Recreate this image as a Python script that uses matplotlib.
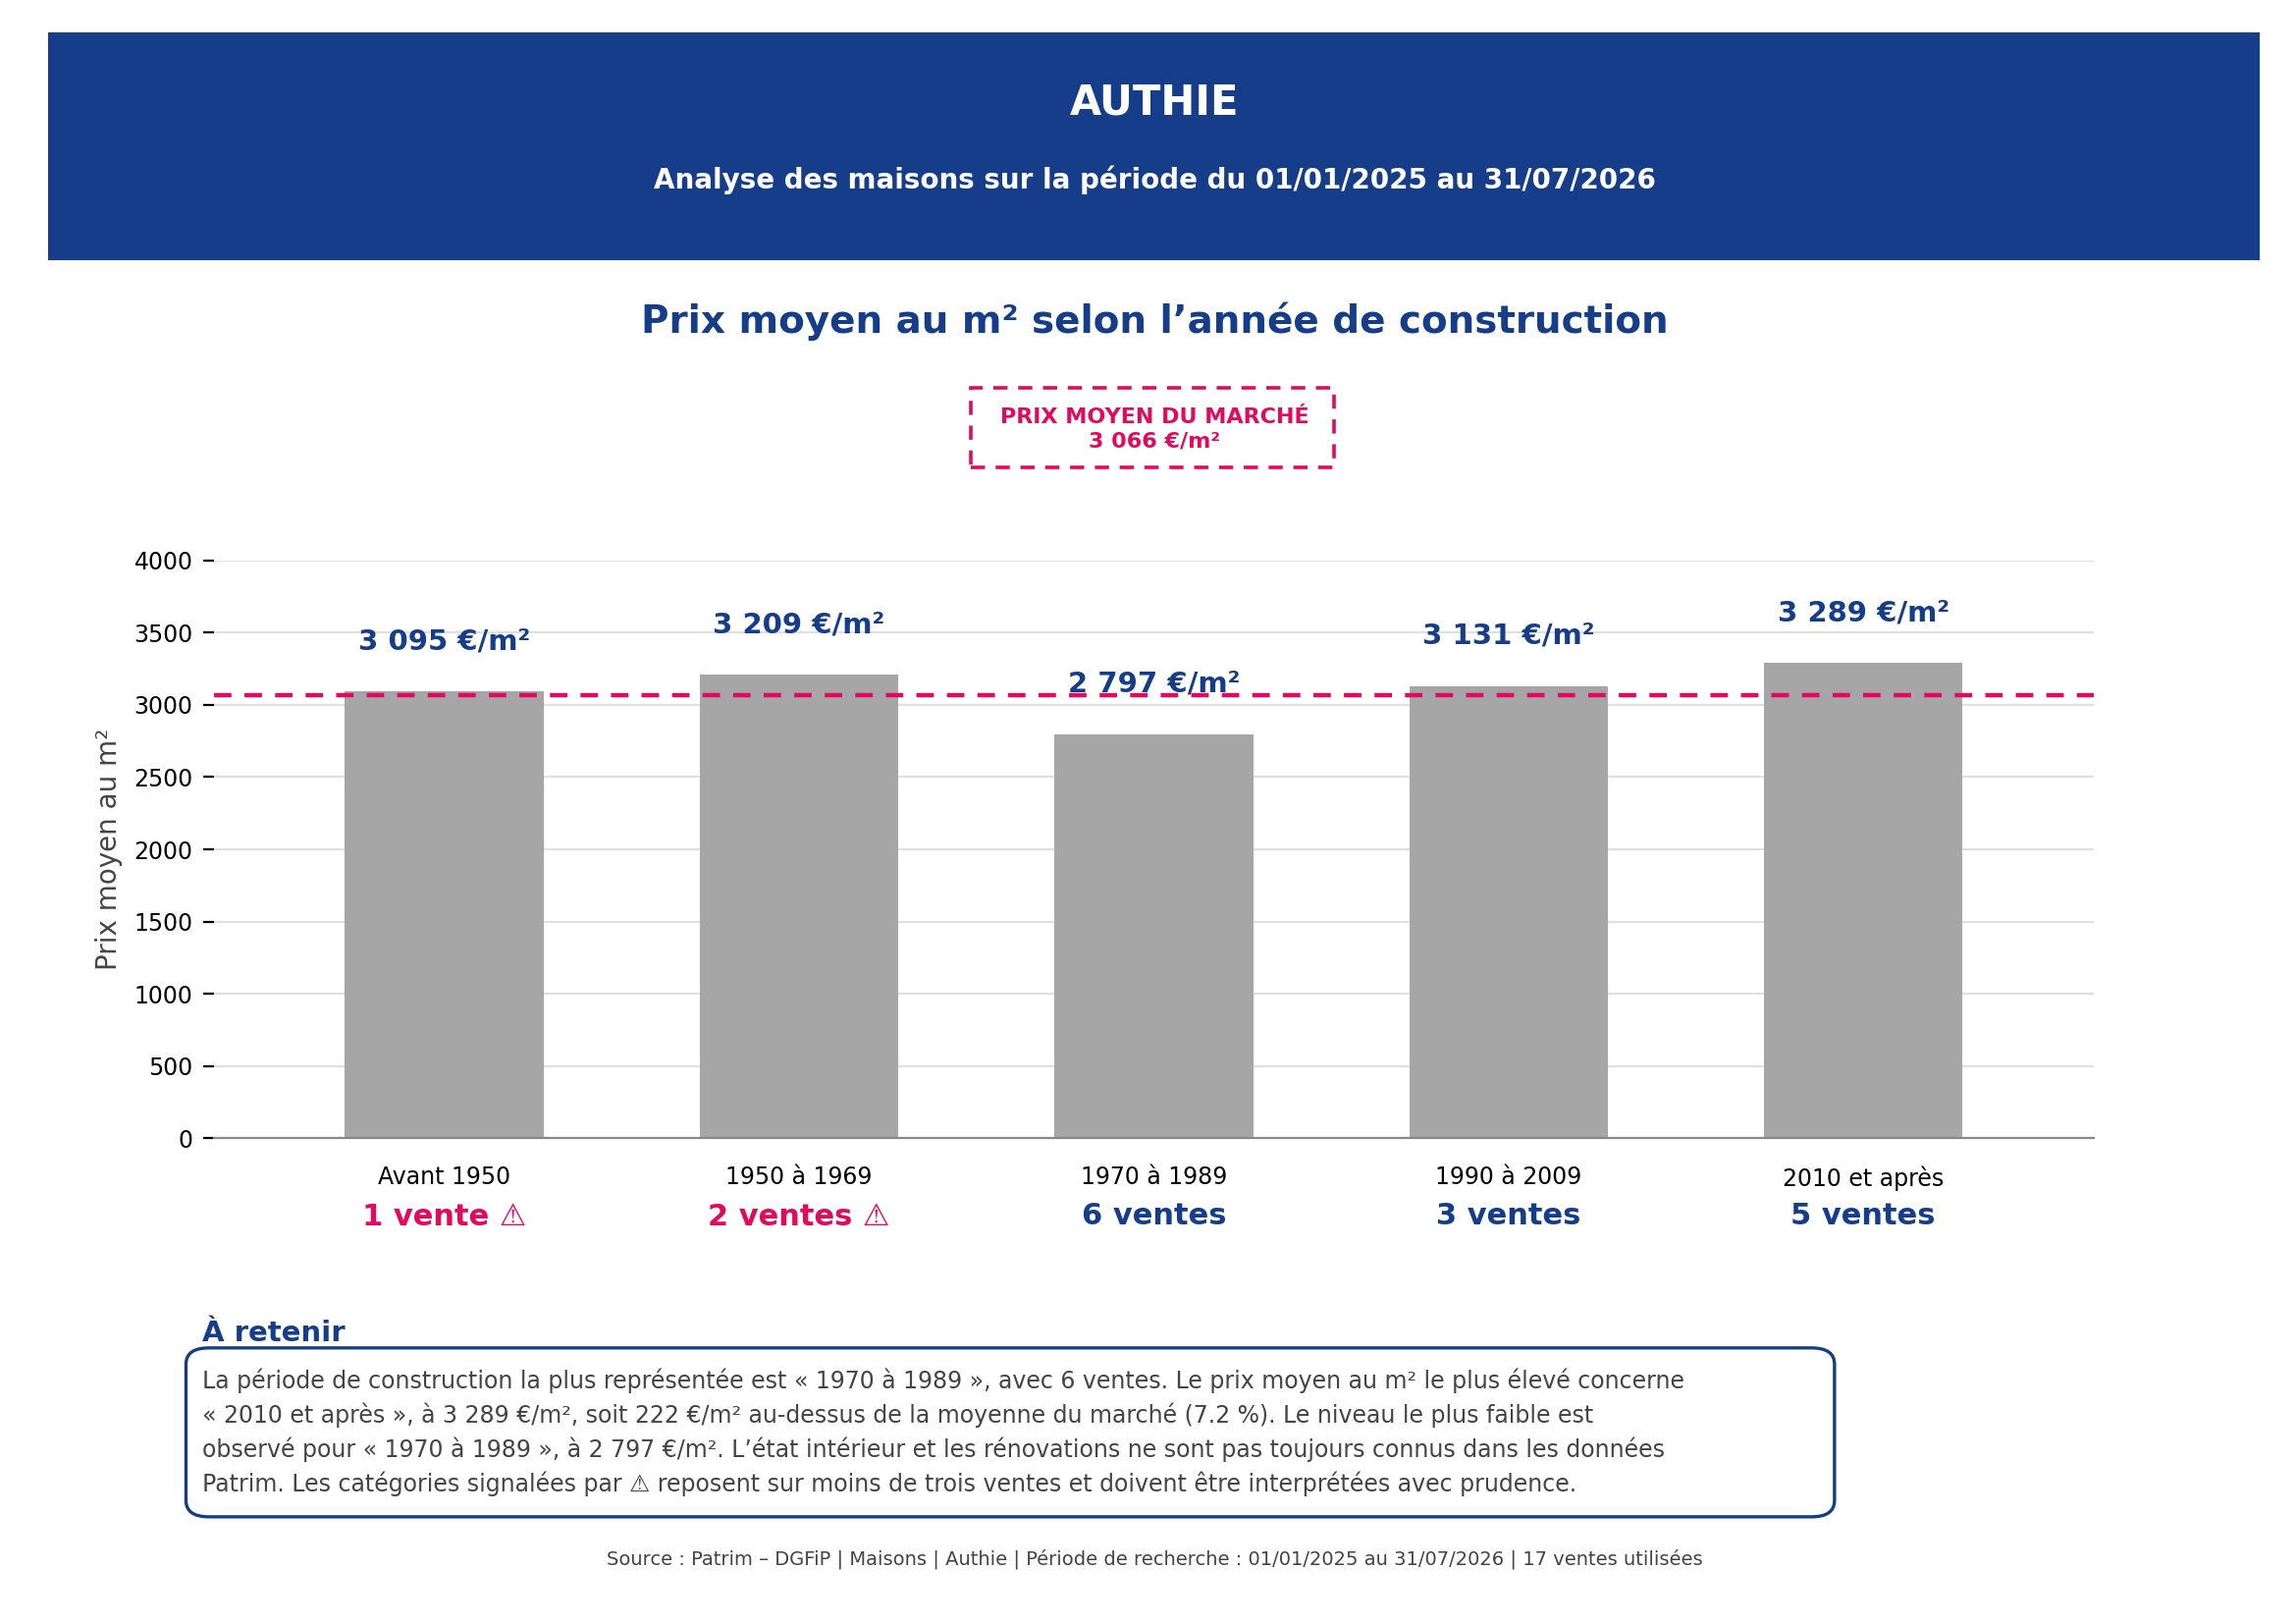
import matplotlib
matplotlib.use("Agg")
import matplotlib.pyplot as plt
from matplotlib.patches import Rectangle, FancyBboxPatch

categories = ["Avant 1950", "1950 à 1969", "1970 à 1989", "1990 à 2009", "2010 et après"]
prices = [3095, 3209, 2797, 3131, 3289]
price_labels = ["3 095 €/m²", "3 209 €/m²", "2 797 €/m²", "3 131 €/m²", "3 289 €/m²"]
sales_labels = ["1 vente ⚠", "2 ventes ⚠", "6 ventes", "3 ventes", "5 ventes"]
sales_warn = [True, True, False, False, False]
market = 3066
yticks = [0, 500, 1000, 1500, 2000, 2500, 3000, 3500, 4000]

BLUE = "#163d8a"
PINK = "#e5095c"
GREY = "#a6a6a6"

fig = plt.figure(figsize=(2339/200, 1654/200), dpi=200)
fig.patches.append(Rectangle((0.021, 0.840), 0.963, 0.140, transform=fig.transFigure,
                             facecolor=BLUE, edgecolor="none"))
fig.text(0.503, 0.937, "AUTHIE", color="white", fontsize=15, fontweight="bold", ha="center", va="center")
fig.text(0.503, 0.889, "Analyse des maisons sur la période du 01/01/2025 au 31/07/2026",
         color="white", fontsize=10, fontweight="bold", ha="center", va="center")
fig.text(0.503, 0.802, "Prix moyen au m² selon l’année de construction", color=BLUE,
         fontsize=14, fontweight="bold", ha="center", va="center")

fig.patches.append(Rectangle((0.423, 0.712), 0.158, 0.049, transform=fig.transFigure,
                             facecolor="white", edgecolor=PINK, linestyle=(0, (4, 3)), linewidth=1.3))
fig.text(0.503, 0.743, "PRIX MOYEN DU MARCHÉ", color=PINK, fontsize=8, fontweight="bold", ha="center", va="center")
fig.text(0.503, 0.728, "3 066 €/m²", color=PINK, fontsize=8, fontweight="bold", ha="center", va="center")

ax = fig.add_axes([0.093, 0.299, 0.819, 0.356])
x = list(range(len(categories)))
ax.bar(x, prices, width=0.56, color=GREY, zorder=2)
ax.axhline(market, color=PINK, linestyle=(0, (4, 3)), linewidth=1.6, zorder=3)
for xi, p, lab in zip(x, prices, price_labels):
    ax.text(xi, p + 250, lab, color=BLUE, fontsize=10.5, fontweight="bold", ha="center", va="bottom", zorder=4)
ax.set_xlim(-0.65, 4.65)
ax.set_ylim(0, 4000)
ax.set_yticks(yticks)
ax.set_yticklabels([str(t) for t in yticks], fontsize=8.5)
ax.grid(axis="y", color="#e0e0e0", linewidth=0.8, zorder=0)
ax.set_axisbelow(True)
ax.set_xticks(x)
ax.set_xticklabels(categories, fontsize=8.5)
ax.tick_params(axis="x", length=0, pad=10)
ax.tick_params(axis="y", length=4)
for s in ["top", "right", "left"]:
    ax.spines[s].set_visible(False)
ax.spines["bottom"].set_color("#888888")
ax.set_ylabel("Prix moyen au m²", fontsize=10, color="#444444")
for xi, lab, w in zip(x, sales_labels, sales_warn):
    ax.text(xi, -0.135, lab, transform=ax.get_xaxis_transform(), color=PINK if w else BLUE,
            fontsize=11, fontweight="bold", ha="center", va="center")

fig.text(0.088, 0.179, "À retenir", color=BLUE, fontsize=10.5, fontweight="bold", ha="left", va="center")
fig.patches.append(FancyBboxPatch((0.081, 0.066), 0.718, 0.104, boxstyle="round,pad=0,rounding_size=0.01",
                                  transform=fig.transFigure, facecolor="white", edgecolor=BLUE, linewidth=1.2))
summary = ("La période de construction la plus représentée est « 1970 à 1989 », avec 6 ventes. Le prix moyen au m² le plus élevé concerne\n"
           "« 2010 et après », à 3 289 €/m², soit 222 €/m² au-dessus de la moyenne du marché (7.2 %). Le niveau le plus faible est\n"
           "observé pour « 1970 à 1989 », à 2 797 €/m². L’état intérieur et les rénovations ne sont pas toujours connus dans les données\n"
           "Patrim. Les catégories signalées par ⚠ reposent sur moins de trois ventes et doivent être interprétées avec prudence.")
fig.text(0.088, 0.118, summary, color="#444444", fontsize=8.5, ha="left", va="center", linespacing=1.45)
fig.text(0.503, 0.040, "Source : Patrim – DGFiP | Maisons | Authie | Période de recherche : 01/01/2025 au 31/07/2026 | 17 ventes utilisées",
         color="#444444", fontsize=7, ha="center", va="center")

fig.savefig("out.png", dpi=200)
